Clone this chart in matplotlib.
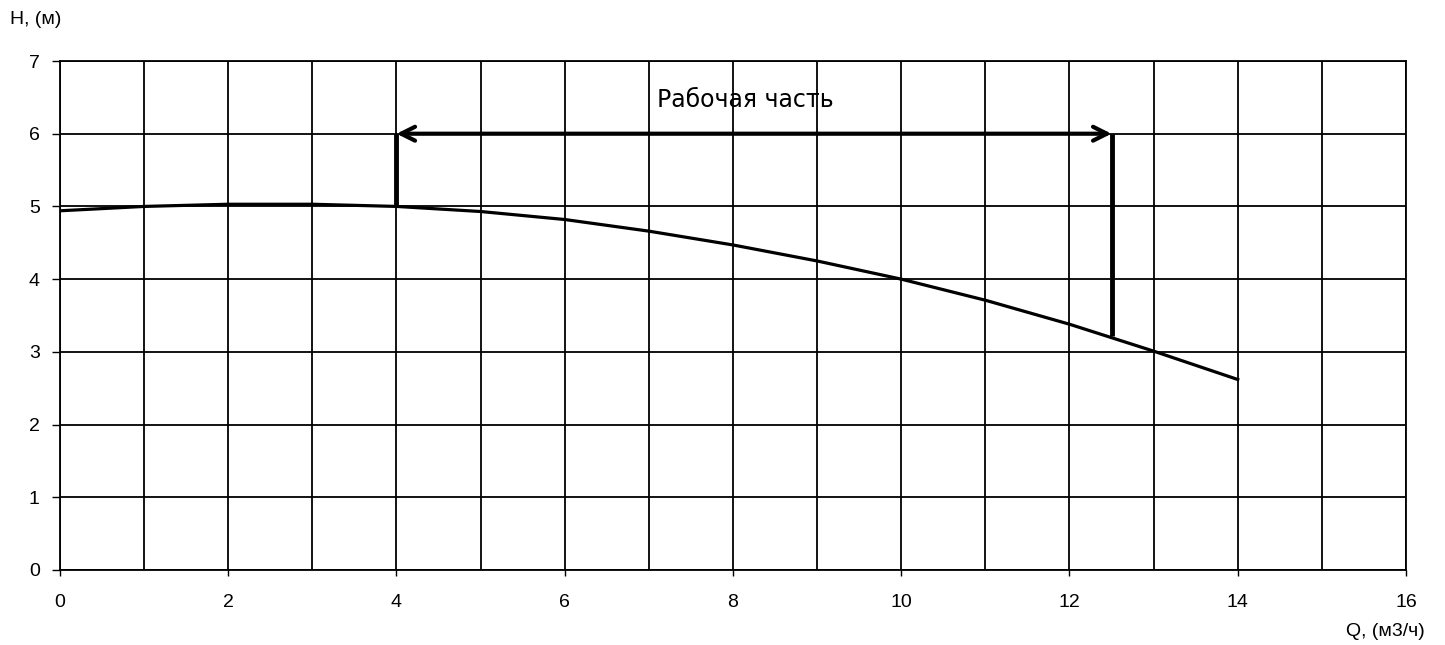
import matplotlib.pyplot as plt

plt.rcParams['font.family'] = ['Liberation Sans', 'DejaVu Sans']

# pump curve H(Q)
q_values = [0, 1, 2, 3, 4, 5, 6, 7, 8, 9, 10, 11, 12, 13, 14]
h_values = [4.94, 5.00, 5.03, 5.03, 5.00, 4.93, 4.82, 4.66, 4.47, 4.25, 4.00, 3.71, 3.38, 3.01, 2.62]

# working range
q_work_start = 4.0
q_work_end = 12.5
h_work_start = 5.0
h_work_end = 3.22
h_arrow = 6.0
work_label = "Рабочая часть"

x_ticks = [0, 2, 4, 6, 8, 10, 12, 14, 16]
y_ticks = [0, 1, 2, 3, 4, 5, 6, 7]

fig = plt.figure(figsize=(14.45, 6.45), dpi=100)
ax = fig.add_axes([60 / 1445, 1 - 570 / 645, 1346 / 1445, 509 / 645])

ax.set_xlim(0, 16)
ax.set_ylim(0, 7)
ax.set_xticks(x_ticks)
ax.set_xticks(range(0, 17), minor=True)
ax.set_yticks(y_ticks)
ax.grid(True, which='both', color='black', linewidth=1.3)
ax.set_axisbelow(True)
for s in ax.spines.values():
    s.set_linewidth(1.3)
ax.tick_params(axis='x', which='major', direction='out', length=4.5, width=1, labelsize=14, pad=13)
ax.tick_params(axis='y', which='major', direction='out', length=5.5, width=1, labelsize=14, pad=9)
ax.tick_params(which='minor', length=0)

ax.plot(q_values, h_values, color='black', linewidth=2.3)

ax.plot([q_work_start, q_work_start], [h_work_start, h_arrow], color='black', linewidth=3.5, solid_capstyle='butt')
ax.plot([q_work_end, q_work_end], [h_work_end, h_arrow], color='black', linewidth=3.5, solid_capstyle='butt')
ax.annotate('', xy=(q_work_start, h_arrow), xytext=(q_work_end, h_arrow),
            arrowprops=dict(arrowstyle='<->', color='black', lw=3, mutation_scale=25,
                            shrinkA=0, shrinkB=0))
ax.text((q_work_start + q_work_end) / 2 - 0.1, 6.46, work_label, fontsize=17,
        ha='center', va='center', family=['DejaVu Sans'])

fig.text(10 / 1445, 1 - 20 / 645, "H, (м)", fontsize=14, ha='left', va='center')
fig.text(1425 / 1445, 1 - 632 / 645, "Q, (м3/ч)", fontsize=14, ha='right', va='center')

fig.savefig('out.png', dpi=100)
